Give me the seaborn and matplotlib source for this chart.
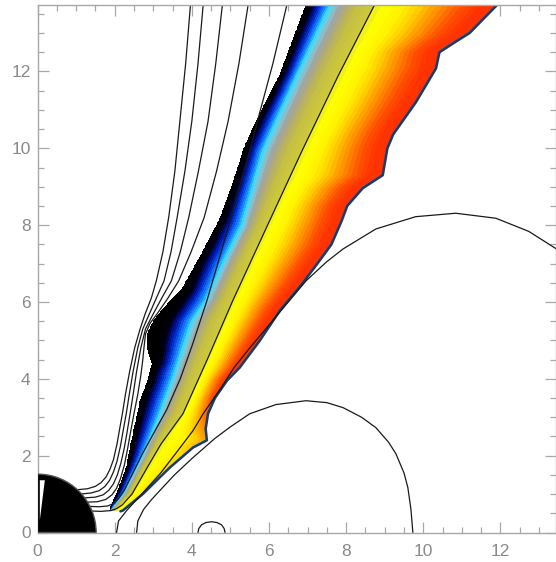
import numpy as np
import matplotlib
matplotlib.use("Agg")
import matplotlib.pyplot as plt
from matplotlib.colors import LinearSegmentedColormap
from matplotlib.patches import Wedge, Polygon
import seaborn as sns

# ---- outflow boundaries and inner reference curves (y, x) ----
edge_left_y = [0.55, 0.8, 1.09, 1.69, 2.21, 2.83, 3.43, 3.95, 4.39, 4.6, 4.81, 5.17, 5.5, 5.95, 6.3, 7.32, 8.18, 9.06, 10.0, 10.7, 11.92, 13.8]
edge_left_x = [1.85, 1.95, 2.08, 2.3, 2.4, 2.53, 2.66, 2.85, 2.97, 2.9, 2.84, 2.84, 3.0, 3.36, 3.72, 4.29, 4.73, 5.05, 5.35, 5.66, 6.28, 6.98]

# value at the inner (black) edge; the dark bulge sits below zero
edge_left_level_y = [0.55, 4.2, 4.7, 5.3, 5.9, 6.5, 7.0, 13.8]
edge_left_level_v = [0.0, 0.0, -0.1, -0.12, -0.08, -0.03, 0.0, 0.0]

cyan_y = [0.55, 1.0, 2.0, 3.0, 4.0, 4.8, 5.5, 6.03, 7.0, 7.97, 9.92, 11.92, 13.8]
cyan_x = [1.9, 2.25, 2.75, 3.15, 3.52, 3.78, 4.02, 4.38, 4.82, 5.3, 5.85, 6.75, 7.63]

mid_y = [0.55, 1.0, 1.7, 2.3, 3.09, 4.5, 6.03, 7.97, 9.92, 11.9, 13.8]
mid_x = [2.0, 2.45, 2.85, 3.2, 3.77, 4.4, 5.06, 5.95, 6.85, 7.8, 8.77]

edge_right_y = [0.55, 0.57, 1.0, 1.69, 2.21, 2.4, 2.7, 3.09, 3.5, 3.95, 4.29, 4.99, 5.77, 6.47, 7.14, 7.5, 8.1, 8.5, 8.96, 9.3, 10.0, 10.36, 11.2, 12.08, 12.5, 12.78, 13.0, 13.8]
edge_right_x = [2.15, 2.21, 2.73, 3.43, 4.03, 4.39, 4.36, 4.42, 4.6, 4.91, 5.24, 5.76, 6.28, 6.86, 7.36, 7.62, 7.88, 8.03, 8.43, 8.95, 9.07, 9.22, 9.81, 10.33, 10.42, 10.85, 11.2, 11.98]

edge_right_level_y = [0.5, 2.0, 2.6, 3.2, 4.0, 5.0, 13.8]
edge_right_level_v = [0.7, 0.72, 0.8, 0.88, 0.97, 0.99, 0.99]

# ---- magnetic field lines (x, y) ----
open_lines = [
    ([1.0, 1.3, 1.5, 1.65, 1.78, 1.88, 1.97, 2.06, 2.13, 2.2, 2.28, 2.39, 2.52, 2.66, 2.79, 2.95, 3.08, 3.25, 3.4, 3.56, 3.69, 3.84, 3.97],
     [1.11, 1.14, 1.2, 1.3, 1.45, 1.65, 1.9, 2.3, 2.7, 3.09, 3.6, 4.2, 4.81, 5.3, 5.69, 6.1, 6.55, 7.3, 8.2, 9.4, 10.7, 12.2, 13.8]),
    ([1.11, 1.4, 1.6, 1.75, 1.87, 1.97, 2.06, 2.15, 2.22, 2.3, 2.38, 2.48, 2.6, 2.73, 2.9, 3.08, 3.28, 3.46, 3.62, 3.82, 4.0, 4.16, 4.3],
     [1.0, 1.03, 1.09, 1.2, 1.36, 1.58, 1.85, 2.25, 2.65, 3.09, 3.6, 4.2, 4.81, 5.3, 5.69, 6.1, 6.55, 7.3, 8.2, 9.4, 10.7, 12.2, 13.8]),
    ([1.2, 1.5, 1.7, 1.85, 1.97, 2.07, 2.16, 2.25, 2.32, 2.4, 2.48, 2.57, 2.68, 2.8, 3.0, 3.22, 3.47, 3.7, 3.92, 4.17, 4.42, 4.62, 4.8],
     [0.9, 0.92, 0.98, 1.1, 1.27, 1.5, 1.8, 2.2, 2.6, 3.09, 3.6, 4.2, 4.81, 5.3, 5.69, 6.1, 6.55, 7.3, 8.2, 9.4, 10.7, 12.2, 13.8]),
    ([1.27, 1.55, 1.77, 1.93, 2.05, 2.15, 2.25, 2.33, 2.41, 2.5, 2.6, 2.68, 2.73, 2.76, 2.8, 2.92, 3.1, 3.38, 3.66, 3.98, 4.32, 4.64, 4.94, 5.22, 5.47],
     [0.79, 0.8, 0.86, 0.98, 1.15, 1.4, 1.75, 2.15, 2.6, 3.09, 3.6, 4.1, 4.5, 4.81, 5.17, 5.45, 5.69, 6.1, 6.55, 7.3, 8.2, 9.4, 10.7, 12.2, 13.8]),
    ([1.34, 1.6, 1.82, 1.98, 2.1, 2.25, 2.45, 2.72, 3.02, 3.35, 3.7, 4.02, 4.39, 4.95, 5.5, 5.72, 6.1, 6.48],
     [0.68, 0.67, 0.69, 0.76, 0.88, 1.1, 1.5, 2.05, 2.6, 3.2, 4.0, 4.9, 6.03, 7.95, 9.92, 10.78, 12.2, 13.8]),
    ([1.39, 1.65, 1.9, 2.05, 2.2, 2.45, 2.85, 3.2, 3.77, 4.4, 5.06, 5.95, 6.85, 7.8, 8.77],
     [0.56, 0.55, 0.57, 0.62, 0.72, 1.0, 1.7, 2.3, 3.09, 4.5, 6.03, 7.97, 9.92, 11.9, 13.8]),
]

loop_outer_x = [2.05, 2.1, 2.31, 2.7, 3.17, 3.6, 4.03, 4.3, 4.75, 5.1, 5.5, 6.0, 6.5, 6.96, 7.5, 7.92, 8.77, 9.8, 10.84, 11.88, 12.73, 13.5]
loop_outer_y = [0.0, 0.3, 0.57, 1.0, 1.52, 2.08, 2.65, 3.1, 3.75, 4.3, 4.8, 5.4, 6.0, 6.55, 7.05, 7.38, 7.9, 8.22, 8.31, 8.18, 7.84, 7.35]

loop_mid_x = [2.57, 2.6, 2.75, 2.95, 3.17, 3.55, 4.03, 4.6, 5.0, 5.5, 6.18, 6.96, 7.5, 7.92, 8.4, 8.77, 9.1, 9.29, 9.5, 9.6, 9.68, 9.73]
loop_mid_y = [0.0, 0.3, 0.6, 0.85, 1.09, 1.5, 1.95, 2.45, 2.75, 3.09, 3.33, 3.43, 3.38, 3.25, 3.0, 2.73, 2.35, 2.05, 1.55, 1.17, 0.6, 0.0]

loop_small_x = [4.16, 4.18, 4.25, 4.37, 4.51, 4.65, 4.77, 4.84, 4.86]
loop_small_y = [0.0, 0.1, 0.2, 0.26, 0.28, 0.26, 0.2, 0.1, 0.0]

star_radius = 1.52
star_gap_x = [0.06, 0.19, 0.06]
star_gap_y = [1.36, 1.36, 0.32]

x_ticks = [0, 2, 4, 6, 8, 10, 12]
y_ticks = [0, 2, 4, 6, 8, 10, 12]
x_range = (0, 13.44)
y_range = (0, 13.73)

# ---- colour table ----
stops = [
    (0.00, "#000000"), (0.08, "#000014"), (0.12, "#000a84"), (0.17, "#0034d4"),
    (0.23, "#1a84ff"), (0.28, "#34dcff"), (0.31, "#84c6d4"), (0.35, "#a2a2a0"),
    (0.40, "#b4ae6a"), (0.45, "#c4be44"), (0.55, "#cfc93a"), (0.565, "#eeee22"),
    (0.59, "#ffff00"), (0.66, "#fff200"), (0.71, "#ffd400"), (0.76, "#ffaa00"),
    (0.82, "#ff7a00"), (0.88, "#ff4c00"), (0.94, "#ff3300"), (1.00, "#ff3000"),
]
cmap = LinearSegmentedColormap.from_list("outflow", stops)
cmap.set_under("black")

sns.set_style("ticks")
plt.rcParams["font.family"] = ["Liberation Sans", "DejaVu Sans"]

fig = plt.figure(figsize=(5.56, 5.62), dpi=100)
ax = fig.add_axes([37.5 / 556, 29.5 / 562, (556 - 37.5) / 556, (532.5 - 5) / 562])

# scalar field across the outflow, tied to the boundary curves
gx = np.linspace(x_range[0], x_range[1], 700)
gy = np.linspace(y_range[0], y_range[1], 700)
field = np.full((gy.size, gx.size), np.nan)
for j, yy in enumerate(gy):
    if yy < edge_left_y[0]:
        continue
    el = np.interp(yy, edge_left_y, edge_left_x)
    vl = np.interp(yy, edge_left_level_y, edge_left_level_v)
    ec = np.interp(yy, cyan_y, cyan_x)
    em = np.interp(yy, mid_y, mid_x)
    er = np.interp(yy, edge_right_y, edge_right_x)
    vr = np.interp(yy, edge_right_level_y, edge_right_level_v)
    ec = max(ec, el + 1e-3)
    em = max(em, ec + 1e-3)
    er = max(er, em + 1e-3)
    row = np.interp(gx, [el, ec, em, er], [vl, 0.28, 0.55, vr])
    row[(gx < el) | (gx > er)] = np.nan
    field[j] = row

X, Y = np.meshgrid(gx, gy)
ax.contourf(X, Y, field, levels=np.linspace(0, 1, 46), cmap=cmap, extend="min")

# thin dark rim along the outer edge of the flow
sns.lineplot(x=edge_right_x, y=edge_right_y, sort=False, estimator=None,
             color="#183c6c", linewidth=1.8, ax=ax)

# central star
ax.add_patch(Wedge((0, 0), star_radius, 0, 90, facecolor="black", edgecolor="#555555", linewidth=1.0, zorder=3))
ax.add_patch(Polygon(np.column_stack([star_gap_x, star_gap_y]), closed=True, facecolor="white", edgecolor="none", zorder=4))

# field lines
line_kw = dict(sort=False, estimator=None, color="#1a1a1a", linewidth=0.9, ax=ax)
for lx, ly in open_lines:
    sns.lineplot(x=lx, y=ly, **line_kw)
sns.lineplot(x=loop_outer_x, y=loop_outer_y, **line_kw)
sns.lineplot(x=loop_mid_x, y=loop_mid_y, **line_kw)
sns.lineplot(x=loop_small_x, y=loop_small_y, **line_kw)

ax.set_xlim(*x_range)
ax.set_ylim(*y_range)
ax.set_xticks(x_ticks)
ax.set_yticks(y_ticks)
ax.set_xticks(np.arange(0, 13.5, 0.5), minor=True)
ax.set_yticks(np.arange(0, 13.75, 0.5), minor=True)
ax.set_xlabel("")
ax.set_ylabel("")

grey = "#a8a8a8"
for s in ax.spines.values():
    s.set_color(grey)
    s.set_linewidth(1.0)
ax.tick_params(which="both", direction="in", top=True, right=True, color=grey, width=0.9)
ax.tick_params(which="major", length=8)
ax.tick_params(which="minor", length=4.5)
ax.tick_params(axis="x", which="major", pad=8, labelsize=12.5, labelcolor="#8a8a8a")
ax.tick_params(axis="y", which="major", pad=5, labelsize=12.5, labelcolor="#8a8a8a")

fig.savefig("out.png", dpi=100)
